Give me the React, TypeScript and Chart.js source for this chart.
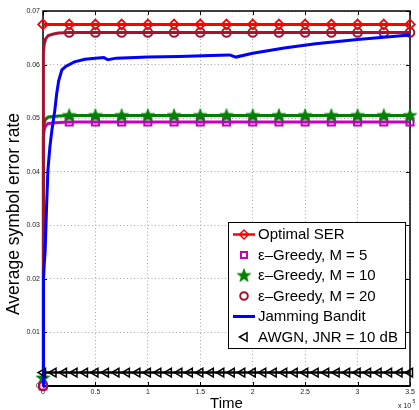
import React, { useEffect, useRef } from 'react';
import { Chart, registerables } from 'chart.js';

Chart.register(...registerables);

// ---------- data (time in units of 1e5) ----------
const optimalTime = [0, 0.25, 0.5, 0.75, 1, 1.25, 1.5, 1.75, 2, 2.25, 2.5, 2.75, 3, 3.25, 3.5];
const optimalSER = [0.0675, 0.0675, 0.0675, 0.0675, 0.0675, 0.0675, 0.0675, 0.0675, 0.0675, 0.0675, 0.0675, 0.0675, 0.0675, 0.0675, 0.0675];

const m5Time = [0, 0.002, 0.006, 0.012, 0.025, 0.05, 0.1, 0.15, 0.25, 0.5, 0.75, 1, 1.25, 1.5, 1.75, 2, 2.25, 2.5, 2.75, 3, 3.25, 3.5];
const m5SER = [0, 0.041, 0.0465, 0.0478, 0.0486, 0.049, 0.0491, 0.0492, 0.0493, 0.0493, 0.0493, 0.0493, 0.0493, 0.0493, 0.0493, 0.0493, 0.0493, 0.0493, 0.0493, 0.0493, 0.0493, 0.0493];

const m10Time = [0, 0.002, 0.006, 0.012, 0.025, 0.05, 0.1, 0.15, 0.25, 0.5, 0.75, 1, 1.25, 1.5, 1.75, 2, 2.25, 2.5, 2.75, 3, 3.25, 3.5];
const m10SER = [0.0015, 0.043, 0.0478, 0.0491, 0.0498, 0.0502, 0.0503, 0.0504, 0.0505, 0.0505, 0.0505, 0.0505, 0.0505, 0.0505, 0.0505, 0.0505, 0.0505, 0.0505, 0.0505, 0.0505, 0.0505, 0.0505];

const m20Time = [0, 0.002, 0.006, 0.012, 0.025, 0.05, 0.1, 0.15, 0.25, 0.5, 0.75, 1, 1.25, 1.5, 1.75, 2, 2.25, 2.5, 2.75, 3, 3.25, 3.5];
const m20SER = [0, 0.056, 0.0622, 0.0638, 0.0648, 0.0654, 0.0657, 0.0659, 0.066, 0.066, 0.066, 0.066, 0.066, 0.066, 0.066, 0.066, 0.066, 0.066, 0.066, 0.066, 0.066, 0.066];

const banditTime = [0, 0.005, 0.012, 0.02, 0.035, 0.047, 0.065, 0.085, 0.1, 0.113, 0.13, 0.15, 0.18, 0.22, 0.3, 0.4, 0.5, 0.58, 0.62, 0.7, 1.0, 1.3, 1.6, 1.78, 1.84, 2.0, 2.3, 2.6, 3.0, 3.5];
const banditSER = [0, 0.02, 0.0228, 0.025, 0.034, 0.0403, 0.0445, 0.0478, 0.0498, 0.0515, 0.0545, 0.057, 0.059, 0.0597, 0.0605, 0.061, 0.0612, 0.0613, 0.0609, 0.0612, 0.0614, 0.0615, 0.0617, 0.0618, 0.0614, 0.0621, 0.0631, 0.0639, 0.0647, 0.0655];

const awgnTime = [0, 0.1, 0.2, 0.3, 0.4, 0.5, 0.6, 0.7, 0.8, 0.9, 1, 1.1, 1.2, 1.3, 1.4, 1.5, 1.6, 1.7, 1.8, 1.9, 2, 2.1, 2.2, 2.3, 2.4, 2.5, 2.6, 2.7, 2.8, 2.9, 3, 3.1, 3.2, 3.3, 3.4, 3.5];
const awgnSER = [0.0025, 0.0025, 0.0025, 0.0025, 0.0025, 0.0025, 0.0025, 0.0025, 0.0025, 0.0025, 0.0025, 0.0025, 0.0025, 0.0025, 0.0025, 0.0025, 0.0025, 0.0025, 0.0025, 0.0025, 0.0025, 0.0025, 0.0025, 0.0025, 0.0025, 0.0025, 0.0025, 0.0025, 0.0025, 0.0025, 0.0025, 0.0025, 0.0025, 0.0025, 0.0025, 0.0025];

const legendLabels = ['Optimal SER', 'ε–Greedy, M = 5', 'ε–Greedy, M = 10', 'ε–Greedy, M = 20', 'Jamming Bandit', 'AWGN, JNR = 10 dB'];
const xTitle = 'Time';
const yTitle = 'Average symbol error rate';

// ---------- styles ----------
const FONT = '"Liberation Sans", Arial, Helvetica, sans-serif';
const RED = '#FF0000';
const MAGENTA = '#C400C4';
const GREEN = '#008000';
const DARKRED = '#A2142F';
const BLUE = '#0000FF';
const BLACK = '#000000';

const toPts = (xs: number[], ys: number[]) => xs.map((x, i) => ({ x, y: ys[i] }));
const isMarker = (x: number) => Math.abs(x * 4 - Math.round(x * 4)) < 1e-6;

function makeStar(color: string): HTMLCanvasElement {
  const c = document.createElement('canvas');
  c.width = 16;
  c.height = 16;
  const g = c.getContext('2d')!;
  const cx = 8, cy = 8.3, ro = 7, ri = 2.9;
  g.beginPath();
  for (let i = 0; i < 10; i++) {
    const r = i % 2 === 0 ? ro : ri;
    const a = -Math.PI / 2 + (i * Math.PI) / 5;
    const px = cx + r * Math.cos(a);
    const py = cy + r * Math.sin(a);
    if (i === 0) g.moveTo(px, py);
    else g.lineTo(px, py);
  }
  g.closePath();
  g.fillStyle = color;
  g.fill();
  g.lineWidth = 0.8;
  g.strokeStyle = color;
  g.stroke();
  return c;
}

function markerRadius(r: number) {
  return (ctx: any) => {
    const raw = ctx.raw;
    if (!raw) return r;
    return isMarker(raw.x) ? r : 0;
  };
}

function drawDiamond(ctx: CanvasRenderingContext2D, x: number, y: number, r: number) {
  ctx.beginPath();
  ctx.moveTo(x, y - r);
  ctx.lineTo(x + r, y);
  ctx.lineTo(x, y + r);
  ctx.lineTo(x - r, y);
  ctx.closePath();
  ctx.stroke();
}

export default function App() {
  const ref = useRef<HTMLCanvasElement>(null);

  useEffect(() => {
    const star = makeStar(GREEN);

    const framePlugin = {
      id: 'matlabFrame',
      beforeDatasetsDraw(chart: any) {
        const { ctx, chartArea: a, scales } = chart;
        ctx.save();
        ctx.strokeStyle = BLACK;
        ctx.lineWidth = 1;
        ctx.beginPath();
        scales.x.ticks.forEach((t: any) => {
          const px = Math.round(scales.x.getPixelForValue(t.value)) + 0.5;
          ctx.moveTo(px, a.bottom);
          ctx.lineTo(px, a.bottom - 4);
          ctx.moveTo(px, a.top);
          ctx.lineTo(px, a.top + 4);
        });
        scales.y.ticks.forEach((t: any) => {
          const py = Math.round(scales.y.getPixelForValue(t.value)) + 0.5;
          ctx.moveTo(a.left, py);
          ctx.lineTo(a.left + 4, py);
          ctx.moveTo(a.right, py);
          ctx.lineTo(a.right - 4, py);
        });
        ctx.stroke();
        ctx.lineWidth = 1.5;
        ctx.strokeRect(a.left, a.top, a.right - a.left, a.bottom - a.top);
        ctx.lineWidth = 2;
        ctx.beginPath();
        ctx.moveTo(a.left, a.bottom);
        ctx.lineTo(a.right, a.bottom);
        ctx.stroke();
        ctx.restore();
      },
      afterDraw(chart: any) {
        const { ctx, chartArea: a } = chart;
        ctx.save();
        // axis titles
        ctx.fillStyle = BLACK;
        ctx.textAlign = 'center';
        ctx.textBaseline = 'middle';
        ctx.font = `15px ${FONT}`;
        ctx.fillText(xTitle, (a.left + a.right) / 2, 404);
        ctx.save();
        ctx.translate(14.5, 214);
        ctx.rotate(-Math.PI / 2);
        ctx.font = `17.5px ${FONT}`;
        ctx.fillText(yTitle, 0, 0);
        ctx.restore();
        // x 10^5
        ctx.textAlign = 'left';
        ctx.textBaseline = 'alphabetic';
        ctx.fillStyle = '#222';
        ctx.font = `7px ${FONT}`;
        ctx.fillText('x 10', 398, 408);
        ctx.font = `5px ${FONT}`;
        ctx.fillText('5', 412.5, 403);

        // legend
        const bx = 228, by = 222, bw = 177, bh = 126;
        ctx.fillStyle = '#FFFFFF';
        ctx.fillRect(bx, by, bw, bh);
        ctx.strokeStyle = BLACK;
        ctx.lineWidth = 1;
        ctx.strokeRect(bx + 0.5, by + 0.5, bw, bh);
        const mx = 244;
        const rowY = (i: number) => 234.5 + i * 20.5;
        // 0 optimal
        let y = rowY(0);
        ctx.strokeStyle = RED;
        ctx.lineWidth = 2.5;
        ctx.beginPath();
        ctx.moveTo(233, y);
        ctx.lineTo(255, y);
        ctx.stroke();
        ctx.lineWidth = 1.5;
        drawDiamond(ctx, mx, y, 4.5);
        // 1 M=5 square
        y = rowY(1);
        ctx.strokeStyle = MAGENTA;
        ctx.lineWidth = 2;
        ctx.strokeRect(mx - 3, y - 3, 6, 6);
        // 2 M=10 star
        y = rowY(2);
        ctx.drawImage(star, mx - 8, y - 8);
        // 3 M=20 circle
        y = rowY(3);
        ctx.strokeStyle = DARKRED;
        ctx.lineWidth = 2;
        ctx.beginPath();
        ctx.arc(mx, y, 3.8, 0, Math.PI * 2);
        ctx.stroke();
        // 4 bandit line
        y = rowY(4);
        ctx.strokeStyle = BLUE;
        ctx.lineWidth = 3;
        ctx.beginPath();
        ctx.moveTo(233, y);
        ctx.lineTo(255, y);
        ctx.stroke();
        // 5 AWGN triangle
        y = rowY(5);
        ctx.strokeStyle = BLACK;
        ctx.lineWidth = 1.5;
        ctx.beginPath();
        ctx.moveTo(mx - 4.5, y);
        ctx.lineTo(mx + 3, y - 4.3);
        ctx.lineTo(mx + 3, y + 4.3);
        ctx.closePath();
        ctx.stroke();
        // labels
        ctx.fillStyle = BLACK;
        ctx.font = `15px ${FONT}`;
        ctx.textAlign = 'left';
        ctx.textBaseline = 'middle';
        legendLabels.forEach((lab, i) => ctx.fillText(lab, 258, rowY(i) + 0.5));
        ctx.restore();
      },
    };

    const datasets: any[] = [
      {
        label: legendLabels[5],
        data: toPts(awgnTime, awgnSER),
        borderColor: BLACK,
        borderWidth: 2.5,
        pointStyle: 'triangle',
        rotation: 270,
        pointRadius: 5,
        pointBorderWidth: 1.5,
        pointBorderColor: BLACK,
        pointBackgroundColor: 'rgba(0,0,0,0)',
        order: 0,
      },
      {
        label: legendLabels[4],
        data: toPts(banditTime, banditSER),
        borderColor: BLUE,
        borderWidth: 3,
        pointRadius: 0,
        order: 1,
      },
      {
        label: legendLabels[0],
        data: toPts(optimalTime, optimalSER),
        borderColor: RED,
        borderWidth: 3,
        pointStyle: 'rectRot',
        pointRadius: 4.8,
        pointBorderWidth: 1.8,
        pointBorderColor: RED,
        pointBackgroundColor: 'rgba(255,255,255,0)',
        order: 2,
      },
      {
        label: legendLabels[3],
        data: toPts(m20Time, m20SER),
        borderColor: DARKRED,
        borderWidth: 3,
        pointStyle: 'circle',
        pointRadius: markerRadius(4.3),
        pointBorderWidth: 2,
        pointBorderColor: DARKRED,
        pointBackgroundColor: 'rgba(255,255,255,0)',
        order: 3,
      },
      {
        label: legendLabels[2],
        data: toPts(m10Time, m10SER),
        borderColor: GREEN,
        borderWidth: 3,
        pointStyle: star,
        pointRadius: markerRadius(6),
        order: 4,
      },
      {
        label: legendLabels[1],
        data: toPts(m5Time, m5SER),
        borderColor: MAGENTA,
        borderWidth: 3,
        pointStyle: 'rect',
        pointRadius: markerRadius(5),
        pointBorderWidth: 2,
        pointBorderColor: MAGENTA,
        pointBackgroundColor: 'rgba(255,255,255,0)',
        order: 5,
      },
    ].map((d) => ({ ...d, fill: false, tension: 0, clip: false, pointHoverRadius: 0 }));

    const chart = new Chart(ref.current!, {
      type: 'line',
      data: { datasets },
      options: {
        responsive: false,
        animation: false,
        devicePixelRatio: 1,
        events: [],
        layout: { padding: { top: 11, right: 4, left: 0, bottom: 0 } },
        plugins: { legend: { display: false }, tooltip: { enabled: false } },
        scales: {
          x: {
            type: 'linear',
            min: 0,
            max: 3.5,
            ticks: {
              stepSize: 0.5,
              autoSkip: false,
              maxRotation: 0,
              padding: 2,
              color: '#222',
              font: { size: 7, family: FONT },
              callback: (v: any) => String(v),
            },
            grid: { color: '#A8A8A8', lineWidth: 1, drawTicks: false },
            border: { display: false, dash: [1, 2.5] },
            afterFit: (s: any) => {
              s.height = 24;
              s.paddingLeft = 0;
              s.paddingRight = 0;
            },
          },
          y: {
            type: 'linear',
            min: 0,
            max: 0.07,
            ticks: {
              stepSize: 0.01,
              padding: 3,
              color: '#222',
              font: { size: 7, family: FONT },
              callback: (v: any) => (v === 0 ? '0' : Number(v).toFixed(2)),
            },
            grid: { color: '#A8A8A8', lineWidth: 1, drawTicks: false },
            border: { display: false, dash: [1, 2.5] },
            afterFit: (s: any) => {
              s.width = 43;
              s.paddingTop = 0;
              s.paddingBottom = 0;
            },
          },
        },
      },
      plugins: [framePlugin],
    } as any);

    return () => chart.destroy();
  }, []);

  return (
    <div style={{ position: 'fixed', left: 0, top: 0, width: 419, height: 410, background: '#ffffff' }}>
      <canvas ref={ref} width={419} height={410} style={{ display: 'block', width: 419, height: 410 }} />
    </div>
  );
}
